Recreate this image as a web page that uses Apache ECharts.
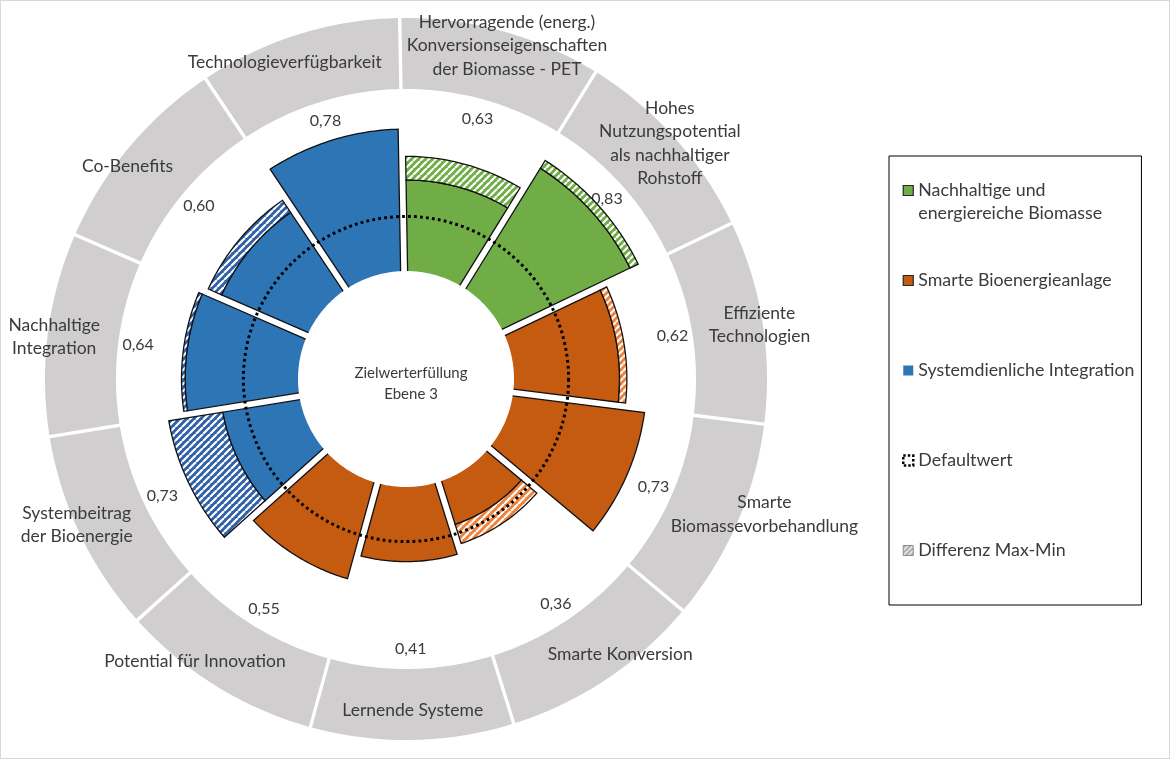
<!DOCTYPE html>
<html>
<head>
<meta charset="utf-8">
<script src="https://cdn.jsdelivr.net/npm/echarts@6/dist/echarts.min.js"></script>
<style>
html,body{margin:0;padding:0;background:#fff;}
#c{position:absolute;left:0;top:0;width:1170px;height:759px;}
#frame{position:absolute;left:0;top:0;width:1170px;height:759px;box-sizing:border-box;border:1px solid #d9d9d9;pointer-events:none;}
</style>
</head>
<body>
<div id="c"></div>
<div id="frame"></div>
<script>
// ---------------- data ----------------
const categories = [
  'Hervorragende (energ.)\nKonversionseigenschaften\nder Biomasse - PET',
  'Hohes\nNutzungspotential\nals nachhaltiger\nRohstoff',
  'Effiziente\nTechnologien',
  'Smarte\nBiomassevorbehandlung',
  'Smarte Konversion',
  'Lernende Systeme',
  'Potential für Innovation',
  'Systembeitrag\nder Bioenergie',
  'Nachhaltige\nIntegration',
  'Co-Benefits',
  'Technologieverfügbarkeit'
];
const groupOfCategory = [0, 0, 1, 1, 1, 1, 1, 2, 2, 2, 2];
const groupNames = ['Nachhaltige und energiereiche Biomasse', 'Smarte Bioenergieanlage', 'Systemdienliche Integration'];
const groupLegendText = ['Nachhaltige und\nenergiereiche Biomasse', 'Smarte Bioenergieanlage', 'Systemdienliche Integration'];
const minValues = [0.50, 0.78, 0.58, 0.73, 0.25, 0.41, 0.55, 0.43, 0.62, 0.52, 0.78];
const maxValues = [0.63, 0.83, 0.62, 0.73, 0.36, 0.41, 0.55, 0.73, 0.64, 0.60, 0.78];
const valueLabels = ['0,63', '0,83', '0,62', '0,73', '0,36', '0,41', '0,55', '0,73', '0,64', '0,60', '0,78'];
const defaultValue = [0.30];
const defaultName = 'Defaultwert';
const diffName = 'Differenz Max-Min';
const centerText = 'Zielwerterfüllung\nEbene 3';

// ---------------- style ----------------
const FONT = 'Lato, "Open Sans", sans-serif';
const TEXT = '#3b3b3b';
const groupColors = ['#70AD47', '#C55A11', '#2E75B6'];
const hatchBg = ['#70AD47', '#F0823A', '#3060A8'];
const RING_COLOR = '#D0CECE';
const RING_START = 1.0;
const RADIUS_MAX = 1.39;
const RING_LABEL_R = 1.19;
const RING_FONT_SIZE = 17.5;
const RING_LINE_H = 23.5;
const VALUE_LABEL_R = 0.89;
const BAR_HALF_GAP = 3.5;
const RING_HALF_GAP = 1.7;

function stripePattern(bg, fg, size, lw) {
  const c = document.createElement('canvas');
  c.width = size; c.height = size;
  const g = c.getContext('2d');
  g.fillStyle = bg; g.fillRect(0, 0, size, size);
  g.strokeStyle = fg; g.lineWidth = lw;
  g.beginPath();
  for (let k = -1; k <= 1; k++) { g.moveTo(k * size, size); g.lineTo(k * size + size, 0); }
  g.stroke();
  return { image: c, repeat: 'repeat' };
}
const hatchPatterns = hatchBg.map(c => stripePattern(c, '#ffffff', 7, 2.2));
const legendHatch = stripePattern('#A6A6A6', '#ffffff', 5, 1.4);

const measureCtx = document.createElement('canvas').getContext('2d');
function textWidth(txt, size) {
  measureCtx.font = size + 'px ' + FONT;
  return Math.max.apply(null, txt.split('\n').map(l => measureCtx.measureText(l).width));
}

const N_CAT = categories.length;
const UNIT_RAD = 2 * Math.PI / N_CAT;

function arc(api, cx, cy, idx, v, halfGap) {
  const p = api.coord([v, idx + 0.5]);
  const r = Math.hypot(p[0] - cx, p[1] - cy);
  const du = Math.asin(Math.min(1, halfGap / Math.max(r, 1e-6))) / UNIT_RAD;
  const pts = [];
  const N = 40;
  for (let k = 0; k <= N; k++) {
    const t = idx + du + (1 - 2 * du) * k / N;
    const q = api.coord([v, t]);
    pts.push([q[0], q[1]]);
  }
  return pts;
}

function sectorShape(params, api, idx, v0, v1, halfGap, fill, strokeMode) {
  const cx = params.coordSys.cx, cy = params.coordSys.cy;
  const outer = arc(api, cx, cy, idx, v1, halfGap);
  const inner = arc(api, cx, cy, idx, v0, halfGap);
  const poly = outer.concat(inner.slice().reverse());
  const children = [{
    type: 'polygon',
    shape: { points: poly },
    style: { fill: fill, stroke: null }
  }];
  if (strokeMode === 'open') {
    children.push({
      type: 'polyline',
      shape: { points: [inner[0]].concat(outer, [inner[inner.length - 1]]) },
      style: { stroke: '#111', lineWidth: 1.3, fill: null }
    });
  } else if (strokeMode === 'closed') {
    children.push({
      type: 'polygon',
      shape: { points: poly },
      style: { stroke: '#111', lineWidth: 1.3, fill: null }
    });
  }
  return { type: 'group', children: children };
}

// ---------------- series ----------------
const series = [];

// grey outer ring with category names and value labels
series.push({
  type: 'custom',
  name: 'ring',
  coordinateSystem: 'polar',
  encode: { angle: 0, radius: 1 },
  data: categories.map((c, i) => [i, maxValues[i]]),
  silent: true,
  z: 1,
  renderItem: function (params, api) {
    const i = api.value(0);
    const cx = params.coordSys.cx, cy = params.coordSys.cy;
    const g = sectorShape(params, api, i, RING_START, RADIUS_MAX, RING_HALF_GAP, RING_COLOR, 'none');
    const lp = api.coord([RING_LABEL_R, i + 0.5]);
    const dx = lp[0] - cx, dy = lp[1] - cy, dl = Math.hypot(dx, dy);
    const ux = dx / dl, uy = dy / dl;
    const lines = categories[i].split('\n').length;
    const w = textWidth(categories[i], RING_FONT_SIZE);
    const h = lines * RING_LINE_H;
    const sx = Math.sign(ux) * Math.min(1, 1.3 * Math.abs(ux));
    const ox = 0.65 * (w / 2) * sx * Math.min(1, 2 / lines);
    const oy = 0.6 * (h / 2) * uy;
    g.children.push({
      type: 'text',
      style: { text: categories[i], x: lp[0] + ox, y: lp[1] + oy, align: 'center', verticalAlign: 'middle',
               fontSize: RING_FONT_SIZE, fontFamily: FONT, fill: TEXT, lineHeight: RING_LINE_H }
    });
    const vp = api.coord([VALUE_LABEL_R, i + 0.5]);
    g.children.push({
      type: 'text',
      style: { text: valueLabels[i], x: vp[0], y: vp[1], align: 'center', verticalAlign: 'middle',
               fontSize: 16, fontFamily: FONT, fill: TEXT }
    });
    return g;
  }
});

// solid bars, one series per group
groupNames.forEach((gname, gi) => {
  const d = [];
  categories.forEach((c, i) => { if (groupOfCategory[i] === gi) d.push([i, minValues[i]]); });
  series.push({
    type: 'custom',
    name: gname,
    coordinateSystem: 'polar',
    encode: { angle: 0, radius: 1 },
    data: d,
    z: 2,
    itemStyle: { color: groupColors[gi] },
    renderItem: function (params, api) {
      const i = api.value(0);
      return sectorShape(params, api, i, 0, api.value(1), BAR_HALF_GAP, groupColors[gi], 'open');
    }
  });
});

// hatched difference max-min
series.push({
  type: 'custom',
  name: diffName,
  coordinateSystem: 'polar',
  encode: { angle: 0, radius: 2 },
  data: categories.map((c, i) => [i, minValues[i], maxValues[i]]).filter(r => r[2] > r[1]),
  z: 3,
  itemStyle: { color: '#A6A6A6' },
  renderItem: function (params, api) {
    const i = api.value(0);
    return sectorShape(params, api, i, api.value(1), api.value(2), BAR_HALF_GAP,
                       hatchPatterns[groupOfCategory[i]], 'closed');
  }
});

// default value dotted circle
series.push({
  type: 'custom',
  name: defaultName,
  coordinateSystem: 'polar',
  encode: { angle: 0, radius: 1 },
  data: defaultValue.map(v => [0, v]),
  z: 4,
  itemStyle: { color: '#000' },
  renderItem: function (params, api) {
    const cx = params.coordSys.cx, cy = params.coordSys.cy;
    const p = api.coord([api.value(1), 0]);
    const r = Math.hypot(p[0] - cx, p[1] - cy);
    return {
      type: 'circle',
      shape: { cx: cx, cy: cy, r: r },
      style: { fill: null, stroke: '#000', lineWidth: 3, lineDash: [2.8, 3.2] }
    };
  }
});

const legendData = [
  { name: groupNames[0], icon: 'rect', itemStyle: { color: groupColors[0], borderColor: '#262626', borderWidth: 1.2 } },
  { name: groupNames[1], icon: 'rect', itemStyle: { color: groupColors[1], borderColor: '#262626', borderWidth: 1.2 } },
  { name: groupNames[2], icon: 'rect', itemStyle: { color: groupColors[2], borderWidth: 0 } },
  { name: defaultName, icon: 'rect', itemStyle: { color: '#fff', borderColor: '#000', borderWidth: 2.5, borderType: [2.5, 2] } },
  { name: diffName, icon: 'rect', itemStyle: { color: legendHatch, borderColor: '#8c8c8c', borderWidth: 1 } }
];

const option = {
  animation: false,
  backgroundColor: '#fff',
  title: {
    text: centerText,
    left: 406, top: 379,
    textAlign: 'center', textVerticalAlign: 'middle',
    textStyle: { fontSize: 15, fontWeight: 'normal', color: TEXT, fontFamily: FONT, lineHeight: 21 }
  },
  polar: { center: [406, 379], radius: [108, 361] },
  angleAxis: {
    type: 'value', min: 0, max: N_CAT, startAngle: 91, clockwise: true,
    axisLine: { show: false }, axisTick: { show: false }, axisLabel: { show: false }, splitLine: { show: false }
  },
  radiusAxis: {
    type: 'value', min: 0, max: RADIUS_MAX,
    axisLine: { show: false }, axisTick: { show: false }, axisLabel: { show: false }, splitLine: { show: false }
  },
  legend: {
    orient: 'vertical',
    left: 889, top: 156,
    padding: [0, 7, 20, 13],
    itemGap: 21,
    itemWidth: 10, itemHeight: 10,
    borderColor: '#000', borderWidth: 1,
    selectedMode: false,
    data: legendData,
    formatter: function (name) {
      const gi = groupNames.indexOf(name);
      const t = gi >= 0 ? groupLegendText[gi] : name;
      return t.indexOf('\n') >= 0 ? ' \n' + t : ' \n' + t + '\n ';
    },
    textStyle: { fontSize: 17.8, fontFamily: FONT, color: TEXT, lineHeight: 23 }
  },
  series: series
};

const chart = echarts.init(document.getElementById('c'), null, { renderer: 'canvas' });
chart.setOption(option);
</script>
</body>
</html>
